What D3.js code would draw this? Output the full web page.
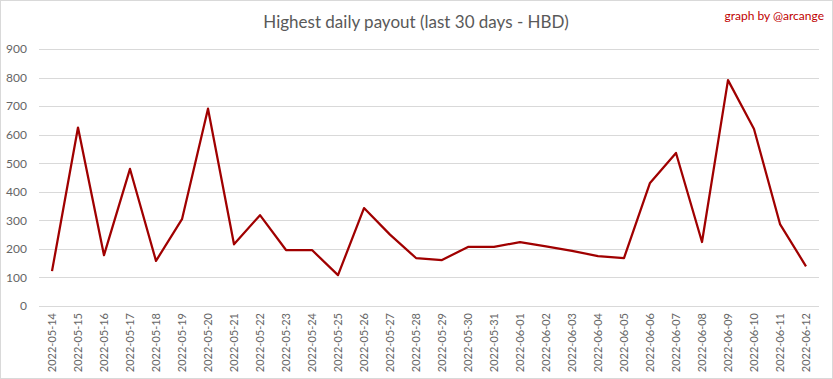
<!DOCTYPE html>
<html>
<head>
<meta charset="utf-8">
<script src="https://cdn.jsdelivr.net/npm/d3@7"></script>
<style>
  html, body { margin: 0; padding: 0; background: #fff; }
  svg { display: block; font-family: Lato, "Open Sans", sans-serif; }
</style>
</head>
<body>
<svg id="chart"></svg>
<script>
/*
Data
*/

const dates = [
  "2022-05-14", "2022-05-15", "2022-05-16", "2022-05-17", "2022-05-18",
  "2022-05-19", "2022-05-20", "2022-05-21", "2022-05-22", "2022-05-23",
  "2022-05-24", "2022-05-25", "2022-05-26", "2022-05-27", "2022-05-28",
  "2022-05-29", "2022-05-30", "2022-05-31", "2022-06-01", "2022-06-02",
  "2022-06-03", "2022-06-04", "2022-06-05", "2022-06-06", "2022-06-07",
  "2022-06-08", "2022-06-09", "2022-06-10", "2022-06-11", "2022-06-12"
];

const payouts = [
  122, 625, 178, 480, 158, 304, 691, 216, 318, 196,
  196, 108, 343, 250, 168, 161, 207, 207, 224, 209,
  193, 175, 168, 431, 536, 224, 791, 620, 287, 139
];

const yTicks = [0, 100, 200, 300, 400, 500, 600, 700, 800, 900];

/*
Layout
*/

const width  = 833;
const height = 379;
const margin = { top: 49, right: 14, bottom: 73, left: 39 };

const svg = d3.select("#chart")
  .attr("width", width)
  .attr("height", height)
  .attr("viewBox", "0 0 " + width + " " + height);

// outer frame
svg.append("rect")
  .attr("x", 0.5).attr("y", 0.5)
  .attr("width", width - 1).attr("height", height - 1)
  .attr("fill", "#fff")
  .attr("stroke", "#d9d9d9");

const x = d3.scalePoint()
  .domain(dates)
  .range([margin.left, width - margin.right])
  .padding(0.5);

const y = d3.scaleLinear()
  .domain([0, 900])
  .range([height - margin.bottom, margin.top]);

// gridlines
svg.append("g")
  .classed("grid", true)
  .selectAll("line")
  .data(yTicks)
  .enter()
  .append("line")
  .attr("x1", margin.left)
  .attr("x2", width - margin.right)
  .attr("y1", d => Math.round(y(d)) + 0.5)
  .attr("y2", d => Math.round(y(d)) + 0.5)
  .attr("stroke", "#d9d9d9")
  .attr("stroke-width", 1);

// y axis labels
const yAxis = svg.append("g")
  .attr("transform", "translate(" + (margin.left - 12) + ",0)")
  .call(d3.axisLeft(y).tickValues(yTicks).tickSize(0).tickPadding(0));
yAxis.select(".domain").remove();
yAxis.selectAll("text")
  .attr("fill", "#666")
  .style("font-size", "12px")
  .style("font-family", "Lato, 'Open Sans', sans-serif");

// x axis labels
const xAxis = svg.append("g")
  .attr("transform", "translate(0," + (height - margin.bottom) + ")")
  .call(d3.axisBottom(x).tickSize(0).tickPadding(0));
xAxis.select(".domain").remove();
xAxis.selectAll("text")
  .attr("fill", "#666")
  .style("font-size", "11px")
  .style("font-family", "Lato, 'Open Sans', sans-serif")
  .attr("text-anchor", "end")
  .attr("dy", "0.35em")
  .attr("transform", "translate(0,7) rotate(-90)")
  .attr("x", 0)
  .attr("y", 0);

// line
const line = d3.line()
  .x((d, i) => x(dates[i]))
  .y(d => y(d));

svg.append("path")
  .datum(payouts)
  .attr("d", line)
  .attr("fill", "none")
  .attr("stroke", "#a00000")
  .attr("stroke-width", 2.25)
  .attr("stroke-linejoin", "round");

// title
svg.append("text")
  .attr("x", 416)
  .attr("y", 28)
  .attr("text-anchor", "middle")
  .attr("fill", "#595959")
  .style("font-size", "17px")
  .text("Highest daily payout (last 30 days - HBD)");

// credit
svg.append("text")
  .attr("x", 824)
  .attr("y", 20)
  .attr("text-anchor", "end")
  .attr("fill", "#c00000")
  .style("font-size", "12px")
  .text("graph by @arcange");
</script>
</body>
</html>
